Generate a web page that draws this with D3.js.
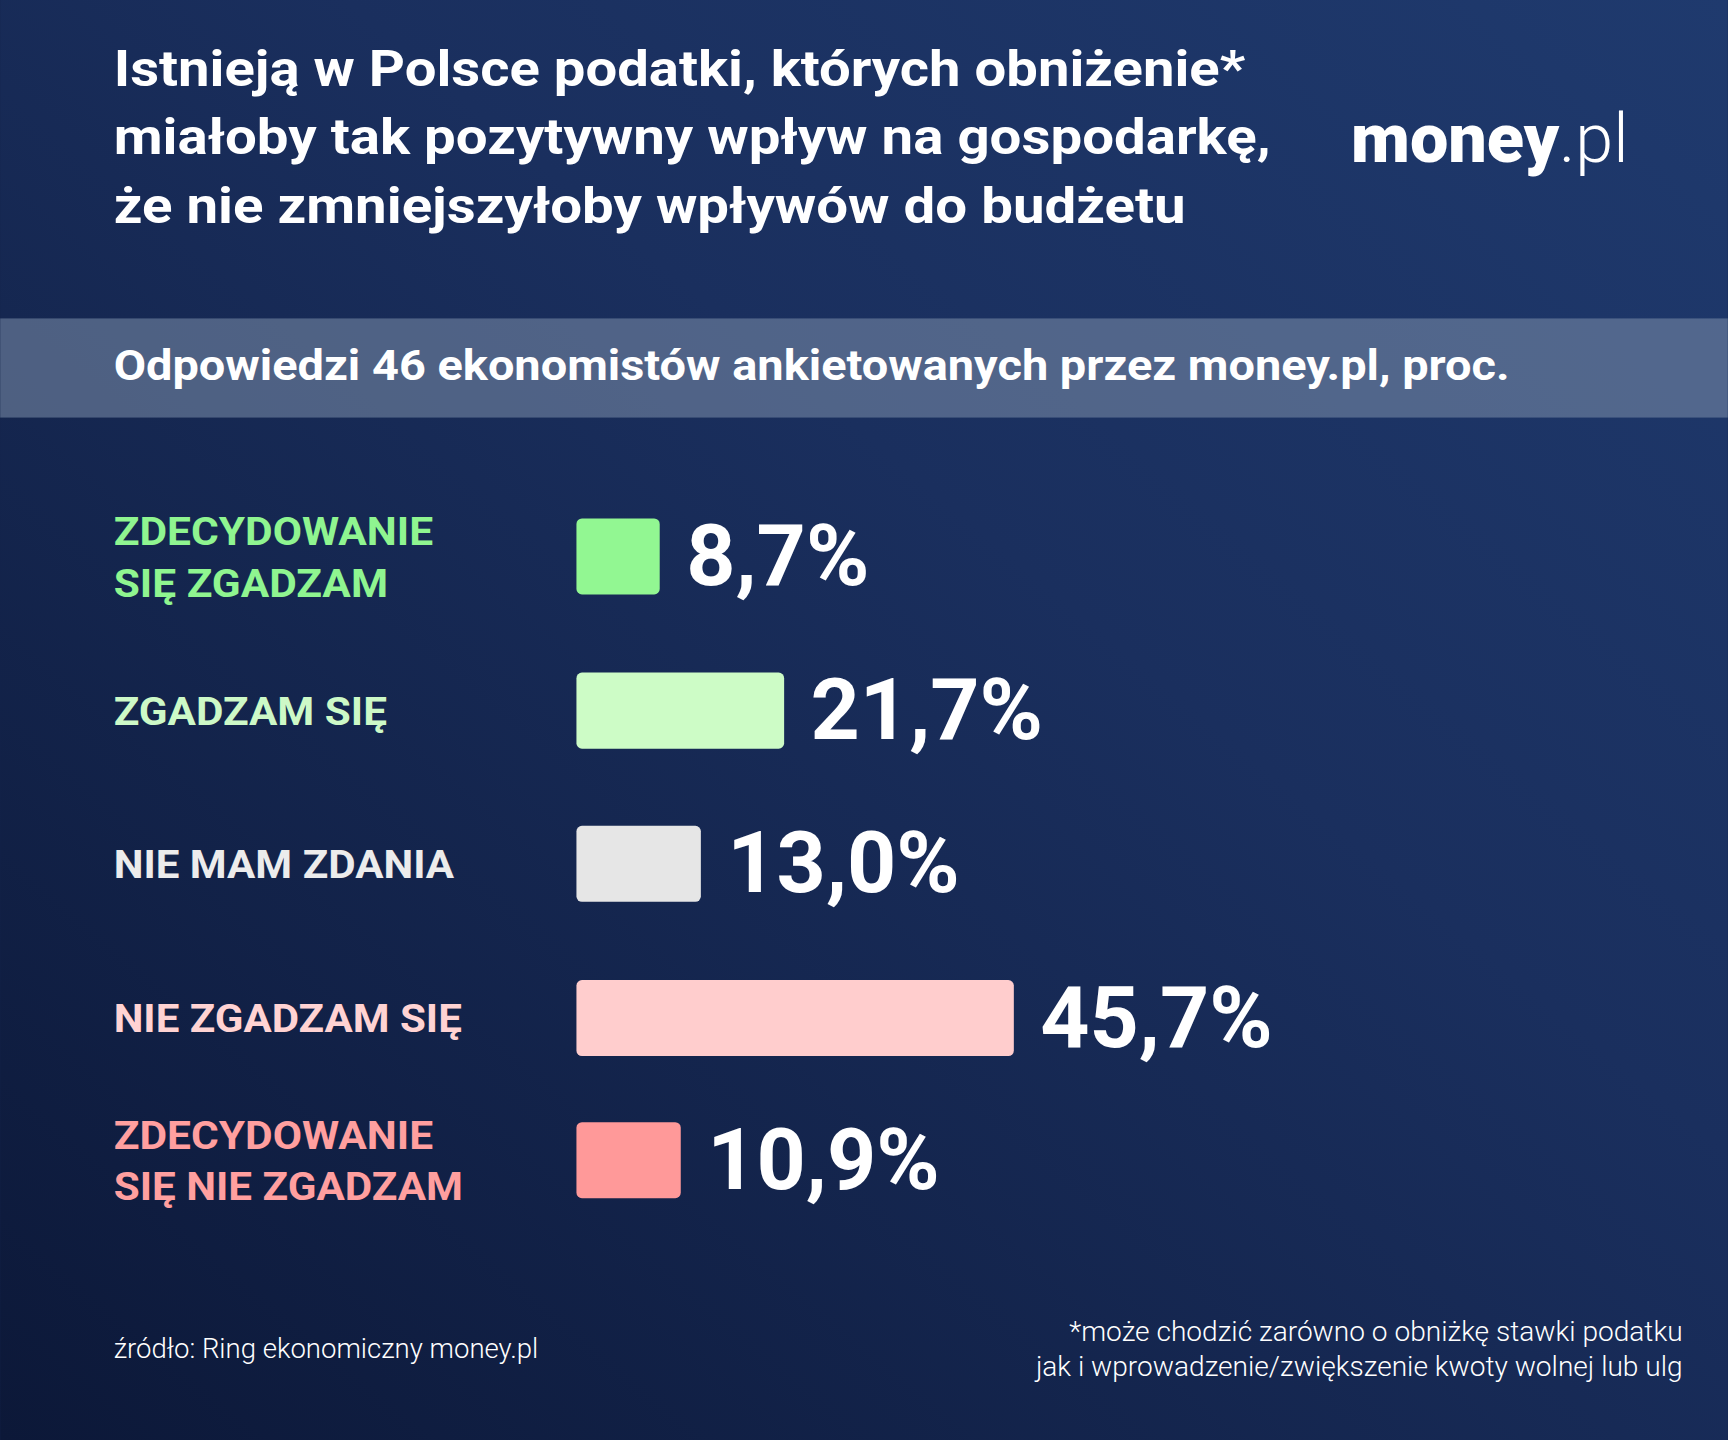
<!DOCTYPE html>
<html>
<head>
<meta charset="utf-8">
<script src="https://cdn.jsdelivr.net/npm/d3@7"></script>
<style>
  body { margin: 0; background: #13224a; }
  svg { display: block; font-family: Roboto, "Noto Sans", sans-serif; }
</style>
</head>
<body>
<svg id="chart" width="1728" height="1440" viewBox="0 0 1568 1307"></svg>
<script>
// answers and shares, proc.
var categories = [['ZDECYDOWANIE', 'SIĘ ZGADZAM'], ['ZGADZAM SIĘ'], ['NIE MAM ZDANIA'], ['NIE ZGADZAM SIĘ'], ['ZDECYDOWANIE', 'SIĘ NIE ZGADZAM']];
var labelWidths = [[290, 249], [248], [309], [316], [290, 317]];
var values = [8.7, 21.7, 13.0, 45.7, 10.9];
var valueLabels = ['8,7%', '21,7%', '13,0%', '45,7%', '10,9%'];
var barColors = ['#92f792', '#cdfcc6', '#e6e6e6', '#ffcdcd', '#ff9999'];
var labelColors = ['#8ff590', '#cdf9c7', '#ececec', '#ffd3d3', '#ff9f9f'];
var rowCenters = [505, 645, 784, 924, 1053];

var svg = d3.select('#chart');

var defs = svg.append('defs');
var grad = defs.append('linearGradient').attr('id', 'bg').attr('x1', '0').attr('y1', '1').attr('x2', '1').attr('y2', '0');
grad.append('stop').attr('offset', '0').attr('stop-color', '#0c1838');
grad.append('stop').attr('offset', '0.6').attr('stop-color', '#1a2f5e');
grad.append('stop').attr('offset', '1').attr('stop-color', '#1f3a6e');
svg.append('rect').attr('width', 1568).attr('height', 1307).attr('fill', 'url(#bg)');

// title
var title = ['Istnieją w Polsce podatki, których obniżenie*', 'miałoby tak pozytywny wpływ na gospodarkę,', 'że nie zmniejszyłoby wpływów do budżetu'];
var titleWidths = [1027, 1050, 973];
svg.selectAll('.title').data(title).enter().append('text')
  .attr('x', 103).attr('y', function (d, i) { return 78 + i * 62; })
  .attr('fill', '#fff').attr('font-size', 46).attr('font-weight', 700)
  .attr('textLength', function (d, i) { return titleWidths[i]; }).attr('lengthAdjust', 'spacingAndGlyphs')
  .text(function (d) { return d; });

// logo
var logo = svg.append('text').attr('x', 1478).attr('y', 147).attr('text-anchor', 'end')
  .attr('fill', '#fff').attr('font-size', 62);
logo.append('tspan').attr('font-weight', 900).text('money');
logo.append('tspan').attr('font-weight', 300).text('.pl');

// subtitle band
svg.append('rect').attr('x', 0).attr('y', 289).attr('width', 1568).attr('height', 90)
  .attr('fill', '#7e8fab').attr('opacity', 0.55);
svg.append('text').attr('x', 103).attr('y', 345).attr('fill', '#fff')
  .attr('font-size', 38).attr('font-weight', 700)
  .attr('textLength', 1267).attr('lengthAdjust', 'spacingAndGlyphs')
  .text('Odpowiedzi 46 ekonomistów ankietowanych przez money.pl, proc.');

var x = d3.scaleLinear().domain([0, 45.7]).range([523, 920]);
var barH = 69;

var rows = svg.selectAll('.row').data(values).enter().append('g').attr('class', 'row');

rows.append('rect')
  .attr('x', x(0)).attr('y', function (d, i) { return rowCenters[i] - barH / 2; })
  .attr('width', function (d) { return x(d) - x(0); }).attr('height', barH)
  .attr('rx', 5).attr('fill', function (d, i) { return barColors[i]; });

rows.append('text')
  .attr('x', function (d) { return x(d) + 24; })
  .attr('y', function (d, i) { return rowCenters[i] + 26; })
  .attr('fill', '#fff').attr('font-size', 78).attr('font-weight', 700)
  .text(function (d, i) { return valueLabels[i]; });

rows.each(function (d, i) {
  var lines = categories[i];
  var t = d3.select(this).append('text')
    .attr('fill', labelColors[i]).attr('font-size', 36).attr('font-weight', 700);
  lines.forEach(function (l, j) {
    t.append('tspan').attr('x', 103)
      .attr('y', rowCenters[i] + 13 + (j - (lines.length - 1) / 2) * 47)
      .attr('textLength', labelWidths[i][j]).attr('lengthAdjust', 'spacingAndGlyphs')
      .text(l);
  });
});

// footer
svg.append('text').attr('x', 103).attr('y', 1233).attr('fill', '#fff')
  .attr('font-size', 25).attr('font-weight', 300).text('źródło: Ring ekonomiczny money.pl');
var notes = ['*może chodzić zarówno o obniżkę stawki podatku', 'jak i wprowadzenie/zwiększenie kwoty wolnej lub ulg'];
svg.selectAll('.note').data(notes).enter().append('text')
  .attr('x', 1527).attr('y', function (d, i) { return 1217 + i * 32; })
  .attr('text-anchor', 'end').attr('fill', '#fff')
  .attr('font-size', 25.5).attr('font-weight', 300).text(function (d) { return d; });
</script>
</body>
</html>
